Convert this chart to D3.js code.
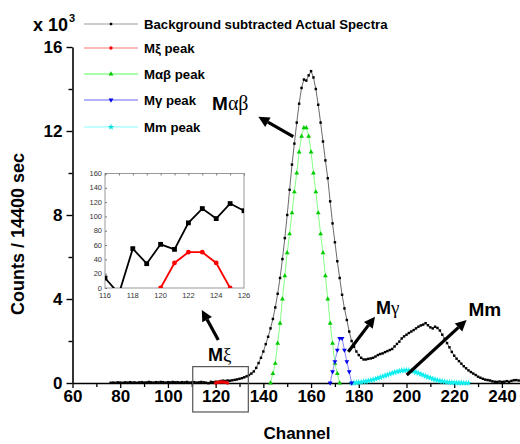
<!DOCTYPE html>
<html><head><meta charset="utf-8">
<script src="https://cdn.jsdelivr.net/npm/d3@7"></script>
<style>body{margin:0;background:#fff} svg{display:block} text{font-family:"Liberation Sans",Arial,sans-serif}</style>
</head><body><svg id="c" width="520" height="444"></svg>
<script>
// ---------- DATA (counts in thousands unless noted) ----------
const spectraStart = 76;
const spectraValues = [
  0.01,0.02,0.01,0.03,0.02,0.01,0.03,0.02,0.04,0.02, // 76-85
  0.03,0.01,0.03,0.04,0.02,0.03,0.05,0.03,0.02,0.04, // 86-95
  0.03,0.05,0.04,0.02,0.04,0.03,0.05,0.03,0.04,0.02, // 96-105
  0.04,0.03,0.05,0.02,0.03,0.04,0.02,0.03,0.05,0.03, // 106-115
  0.014,-0.008,0.055,0.034,0.061,0.054,0.091,0.111,0.097,0.118, // 116-125
  0.108,0.13,0.15,0.17,0.2,0.23,0.27,0.32,0.38,0.45, // 126-135
  0.55,0.72,0.95,1.2,1.5,1.85,2.2,2.6,3.05,3.6, // 136-145
  4.25,5.0,5.9,6.9,8.0,9.2,10.4,11.4,12.4,13.3, // 146-155
  14.05,14.45,14.4,14.65,14.85,14.55,14.0,13.25,12.4,11.5, // 156-165
  10.6,9.75,8.65,7.6,6.7,5.8,5.0,4.2,3.55,3.0, // 166-175
  2.45,2.0,1.73,1.5,1.33,1.2,1.12,1.12,1.15,1.17, // 176-185
  1.2,1.26,1.33,1.38,1.41,1.47,1.52,1.57,1.62,1.74, // 186-195
  1.86,1.97,2.12,2.22,2.3,2.38,2.45,2.52,2.6,2.68, // 196-205
  2.74,2.78,2.85,2.75,2.65,2.6,2.68,2.62,2.5,2.3, // 206-215
  2.1,1.9,1.7,1.48,1.3,1.16,1.04,0.92,0.8,0.7, // 216-225
  0.6,0.52,0.45,0.38,0.3,0.25,0.2,0.16,0.14,0.12, // 226-235
  0.08,0.06,0.05,0.07,0.05,0.06,0.09,0.06,0.1,0.13, // 236-245
  0.14,0.12,0.1 // 246-248
];
const xiStart = 120;
const xiValues = [0,0.035,0.05,0.05,0.035,0];
const abStart = 143;
const abValues = [0,0.45,0.93,1.89,2.84,4.0,5.1,6.2,7.1,8.1,9.1,10.0,11.0,11.75,12.15,
                  12.15,11.75,11.0,10.0,9.1,8.1,7.1,6.2,5.1,4.0,2.84,1.89,0.93,0.45,0];
const gammaStart = 168;
const gammaValues = [0,0.54,1.02,1.57,2.13,2.13,1.57,1.02,0.54,0];
const mmStart = 177;
const mmValues = [0,0.01,0.02,0.03,0.04,0.06,0.08,0.10,0.13,0.16,
                  0.19,0.23,0.27,0.31,0.35,0.39,0.43,0.47,0.51,0.54,
                  0.57,0.59,0.60,0.61,0.60,0.58,0.55,0.51,0.47,0.42,
                  0.37,0.33,0.28,0.24,0.20,0.16,0.13,0.10,0.08,0.06,
                  0.04,0.03,0.02,0.02,0.01,0.01,0.01,0,0,0];
// inset (raw counts)
const insetChannels = [116,117,118,119,120,121,122,123,124,125,126];
const insetSpectra  = [14,-8,55,34,61,54,91,111,97,118,108];
const insetXiChannels = [120,121,122,123,124,125];
const insetXi = [0,35,50,50,35,0];

const xTicks = [60,80,100,120,140,160,180,200,220,240];
const xMinor = [70,90,110,130,150,170,190,210,230];
const yTicks = [0,4,8,12,16];
const yMinor = [2,6,10,14];
const insetXTicks = [116,118,120,122,124,126];
const insetYTicks = [0,20,40,60,80,100,120,140,160];

const legendLabels = ["Background subtracted Actual Spectra","Mξ peak","Mαβ peak","Mγ peak","Mm peak"];

const toPts = (start, vals) => vals.map((v,i)=>({c:start+i, v}));

// ---------- DRAW ----------
const svg = d3.select("#c");
const x = d3.scaleLinear([60,248],[72.5,521]);
const y = d3.scaleLinear([0,16],[383,47]);

svg.append("defs").append("clipPath").attr("id","plotclip")
  .append("rect").attr("x",72).attr("y",0).attr("width",450).attr("height",400);

// axes
const gy = svg.append("g").attr("transform",`translate(${x(60)},0)`);
gy.call(d3.axisLeft(y).tickValues(yTicks).tickSize(6).tickSizeOuter(0).tickPadding(4));
gy.selectAll("text").attr("font-size",17).attr("font-weight","bold").attr("fill","#000");
gy.select(".domain").attr("stroke-width",1.6);
gy.selectAll(".tick line").attr("stroke-width",1.4);
const gym = svg.append("g").attr("transform",`translate(${x(60)},0)`);
gym.call(d3.axisLeft(y).tickValues(yMinor).tickSize(4).tickFormat(""));
gym.select(".domain").remove();
gym.selectAll(".tick line").attr("stroke-width",1.4);

const gx = svg.append("g").attr("transform",`translate(0,${y(0)})`);
gx.call(d3.axisBottom(x).tickValues(xTicks).tickSize(5).tickSizeOuter(0).tickPadding(2));
gx.selectAll("text").attr("font-size",17).attr("font-weight","bold").attr("fill","#000");
gx.select(".domain").attr("stroke-width",1.6);
gx.selectAll(".tick line").attr("stroke-width",1.3);
const gxm = svg.append("g").attr("transform",`translate(0,${y(0)})`);
gxm.call(d3.axisBottom(x).tickValues(xMinor).tickSize(4).tickFormat(""));
gxm.select(".domain").remove();
gxm.selectAll(".tick line").attr("stroke-width",1.3);

// axis titles
svg.append("text").attr("transform",`translate(24,234) rotate(-90)`).attr("text-anchor","middle")
  .attr("font-size",18).attr("font-weight","bold").text("Counts / 14400 sec");
svg.append("text").attr("x",297).attr("y",439).attr("text-anchor","middle")
  .attr("font-size",17).attr("font-weight","bold").text("Channel");
const sc = svg.append("text").attr("x",33).attr("y",31).attr("font-size",18).attr("font-weight","bold");
sc.append("tspan").text("x 10");
sc.append("tspan").attr("font-size",11).attr("dy",-9).attr("dx",1).text("3");

// series
const plot = svg.append("g").attr("clip-path","url(#plotclip)");
const line = d3.line().x(d=>x(d.c)).y(d=>y(d.v));

function series(data, lineColor, lw, markerColor, symbol, size, rot){
  plot.append("path").datum(data).attr("d",line).attr("fill","none")
    .attr("stroke",lineColor).attr("stroke-width",lw);
  plot.append("g").selectAll("path").data(data).join("path")
    .attr("transform",d=>`translate(${x(d.c)},${y(d.v)})${rot?" rotate(180)":""}`)
    .attr("d",d3.symbol(symbol,size)).attr("fill",markerColor);
}
series(toPts(spectraStart,spectraValues),"#444",0.8,"#000",d3.symbolSquare,6);
series(toPts(mmStart,mmValues),"#7ff",1,"#1ee",d3.symbolStar,14);
series(toPts(abStart,abValues),"#7f7",0.9,"#0c0",d3.symbolTriangle,10);
series(toPts(gammaStart,gammaValues),"#77f",0.9,"#00e",d3.symbolTriangle,10,true);
series(toPts(xiStart,xiValues),"#f00",2.5,"#e00",d3.symbolCircle,9);

// legend
const legColors = [["#999","#000",d3.symbolSquare,6,false],["#f77","#f00",d3.symbolCircle,9,false],
  ["#5f5","#0c0",d3.symbolTriangle,10,false],["#66f","#00e",d3.symbolTriangle,10,true],["#8ff","#0dd",d3.symbolStar,14,false]];
const legY = [24,48,74,100,127];
legendLabels.forEach((lab,i)=>{
  const g = svg.append("g");
  g.append("line").attr("x1",84).attr("x2",138).attr("y1",legY[i]).attr("y2",legY[i])
    .attr("stroke",legColors[i][0]).attr("stroke-width",1.2);
  g.append("path").attr("transform",`translate(111,${legY[i]})${legColors[i][4]?" rotate(180)":""}`)
    .attr("d",d3.symbol(legColors[i][2],legColors[i][3])).attr("fill",legColors[i][1]);
  g.append("text").attr("x",144).attr("y",legY[i]+5).attr("font-size",13.2).attr("font-weight","bold").text(lab);
});

// annotations (data coords)
const arrows = [
  {from:[152.55,11.73], to:[137.9,12.68]},
  {from:[175.6,1.49], to:[186.8,3.16]},
  {from:[200.1,0.38], to:[225.2,3.0]},
  {from:[121.1,2.05], to:[114.2,3.48]}
];
arrows.forEach(a=>{
  const x1=x(a.from[0]), y1=y(a.from[1]), x2=x(a.to[0]), y2=y(a.to[1]);
  const ang=Math.atan2(y2-y1,x2-x1), L=11, W=5.5;
  const bx=x2-L*Math.cos(ang), by=y2-L*Math.sin(ang);
  svg.append("line").attr("x1",x1).attr("y1",y1).attr("x2",bx).attr("y2",by)
    .attr("stroke","#000").attr("stroke-width",3.2);
  svg.append("path").attr("d",`M${x2},${y2}L${bx+W*Math.sin(ang)},${by-W*Math.cos(ang)}L${bx-W*Math.sin(ang)},${by+W*Math.cos(ang)}Z`)
    .attr("fill","#000");
});
function label(c,v,main,greek,size){
  const t = svg.append("text").attr("x",x(c)).attr("y",y(v)).attr("font-size",size);
  t.append("tspan").attr("font-weight","bold").text(main);
  if(greek) t.append("tspan").attr("font-family","'Liberation Serif',serif").attr("font-size",size+1).text(greek);
}
label(118.5,13.0,"M","αβ",19);
label(187.2,3.29,"M","γ",18);
label(225.95,3.19,"Mm","",19);
label(116.8,1.05,"M","ξ",18);

// box around Mξ region
svg.append("rect").attr("x",x(110.4)).attr("y",y(0.78)).attr("width",x(133.7)-x(110.4))
  .attr("height",y(-1.38)-y(0.78)).attr("fill","none").attr("stroke","#555").attr("stroke-width",1.2);

// inset
const xi = d3.scaleLinear([116,126],[105,244]);
const yi = d3.scaleLinear([0,160],[288,173.5]);
const ins = svg.append("g");
ins.append("rect").attr("x",105).attr("y",yi(160)).attr("width",139).attr("height",yi(0)-yi(160))
  .attr("fill","#fff").attr("stroke","#999").attr("stroke-width",1);
ins.append("defs").append("clipPath").attr("id","insclip").append("rect")
  .attr("x",105).attr("y",yi(160)).attr("width",139).attr("height",yi(0)-yi(160));
const iyAx = ins.append("g").attr("transform","translate(105,0)")
  .call(d3.axisRight(yi).tickValues(insetYTicks).tickSize(2).tickFormat(""));
iyAx.select(".domain").remove(); iyAx.selectAll("line").attr("stroke","#777");
const ixAx = ins.append("g").attr("transform",`translate(0,${yi(160)})`)
  .call(d3.axisBottom(xi).ticks(10).tickSize(2).tickFormat(""));
ixAx.select(".domain").remove(); ixAx.selectAll("line").attr("stroke","#777");
ins.selectAll("text.iy").data(insetYTicks).join("text").attr("class","iy")
  .attr("x",102).attr("y",d=>yi(d)+2.5).attr("text-anchor","end").attr("font-size",7.5).attr("fill","#333").text(d=>d);
ins.selectAll("text.ix").data(insetXTicks).join("text").attr("class","ix")
  .attr("x",d=>xi(d)).attr("y",298).attr("text-anchor","middle").attr("font-size",7.5).attr("fill","#333").text(d=>d);
const ig = ins.append("g").attr("clip-path","url(#insclip)");
const iline = d3.line().x(d=>xi(d.c)).y(d=>yi(d.v));
const insB = insetChannels.map((c,i)=>({c,v:insetSpectra[i]}));
const insR = insetXiChannels.map((c,i)=>({c,v:insetXi[i]}));
ig.append("path").datum(insB).attr("d",iline).attr("fill","none").attr("stroke","#000").attr("stroke-width",1.8);
ig.selectAll("rect.m").data(insB).join("rect").attr("class","m")
  .attr("x",d=>xi(d.c)-2.4).attr("y",d=>yi(d.v)-2.4).attr("width",4.8).attr("height",4.8).attr("fill","#000");
ig.append("path").datum(insR).attr("d",iline).attr("fill","none").attr("stroke","#f00").attr("stroke-width",1.8);
ig.selectAll("circle").data(insR).join("circle")
  .attr("cx",d=>xi(d.c)).attr("cy",d=>yi(d.v)).attr("r",2.4).attr("fill","#f00");
</script></body></html>
